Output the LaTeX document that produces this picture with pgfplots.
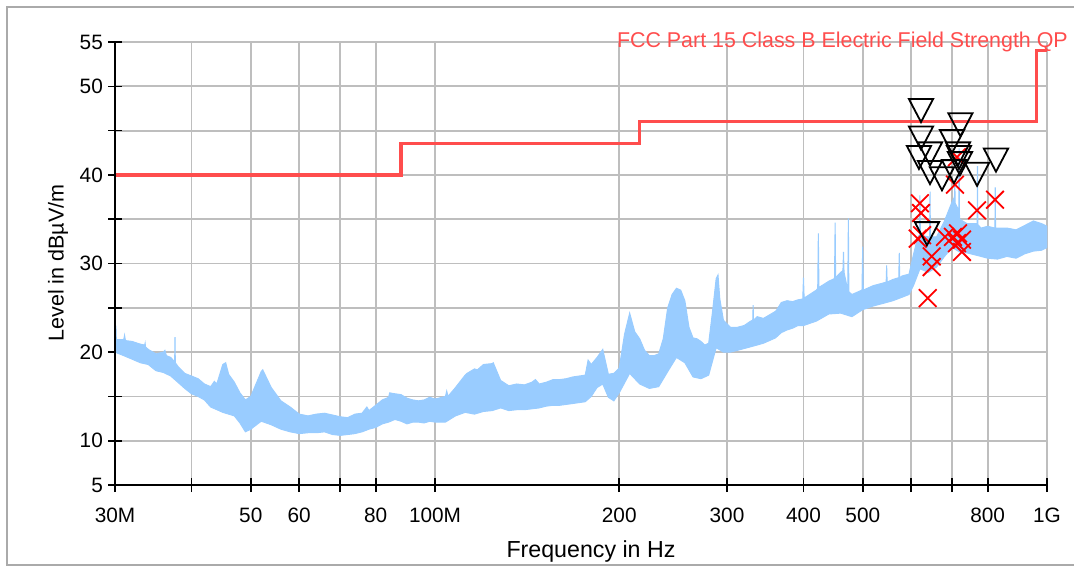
\documentclass[border=0pt]{standalone}
\usepackage{fontspec}
\setmainfont{Liberation Sans}
\usepackage{pgfplots}
\usepackage{pgfplotstable}
\pgfplotsset{compat=1.18}
\definecolor{spec}{RGB}{153,204,255}
\definecolor{lim}{RGB}{255,77,77}
\definecolor{gridc}{RGB}{190,190,190}
\definecolor{framec}{RGB}{170,170,170}

% spectrum band: upper envelope (ascending f), then lower envelope (descending f)
\pgfplotstableread{
f v
30 21.5
30.05 21.3
30.1 23.0
30.15 21.4
31 21.4
31.1 21.9
31.2 21.3
32 21.2
33 20.9
33.55 20.8
33.6 21.0
33.65 20.6
34 20.3
35 19.8
36 20.0
36.2 20.2
36.4 19.6
37 19.4
37.55 18.9
37.6 21.7
37.65 18.8
38 18.4
39 17.6
40 17.3
41 17.0
42 16.4
43 16.1
43.6 16.7
44 16.4
45 18.6
45.5 18.8
46 17.5
47 16.6
48 15.4
49 14.6
50 15.0
52 17.8
52.3 18.0
54 16.0
56 14.5
58 13.8
60 13.0
62 12.8
64 13.0
66 13.1
68 12.9
70 12.7
72 12.6
74 13.0
76 13.1
77.4 13.8
78 13.4
80 14.0
82 14.6
84 14.9
84.3 15.4
86 15.3
88 15.2
90 14.8
92 14.6
94 14.5
96 14.6
98 14.9
100 14.7
104 15.0
104.5 15.6
105 15.0
108 16.0
112 17.4
112.8 17.6
116 18.1
117.3 18.0
120 18.6
124 18.7
124.5 18.8
128 16.8
132 16.2
136 16.4
140 16.3
144 16.6
145.9 16.9
148 16.4
152 16.6
156 16.9
160 16.9
164 17.0
168 17.2
172 17.3
176 17.4
177.9 19.1
180 18.6
184 19.4
188 20.3
192 17.5
196 17.6
200 18.2
204 22.0
208 24.4
212 22.3
216 21.5
220 20.2
224 19.6
228 19.6
232 19.8
236 21.5
240 25.0
244 26.5
248 27.2
252 27.0
256 25.8
260 22.8
264 21.6
268 21.5
272 21.2
276 20.8
280 21.0
284 24.5
288 28.3
290 28.7
292 26.0
296 23.6
304 22.8
312 22.8
320 23.0
328 23.5
330.5 23.6
331 25.3
331.5 23.6
336 24.0
344 23.8
352 24.2
360 24.6
362 24.8
368 25.6
376 25.8
384 25.7
392 25.9
399 26.0
400 28.4
401 26.1
420 27.0
422 27.2
423 33.4
424 27.3
440 28.0
449.5 28.3
450.6 34.6
451.5 28.4
460 29.0
464 29.2
465 31.3
466 29.0
472.5 27.0
473.6 35.1
474.5 26.8
480 26.5
498.5 27.0
499.8 31.9
501 27.0
520 27.5
540 27.8
546 27.9
547 29.8
548 27.9
560 28.2
572.5 28.4
573.6 31.2
574.5 28.4
580 28.6
595 28.8
605 31.0
615 33.0
619 33.2
620 37.7
621 33.2
640 33.0
643 33.0
644 38.1
645 33.0
660 33.0
680 34.8
700 37.0
706 37.5
707 39.1
708 36.8
717.5 36.0
718.5 43.0
719.5 35.5
720 35.0
740 34.5
760 34.5
769 34.5
770 41.0
771 34.4
780 34.0
800 34.2
822 34.0
823 38.6
824 34.0
830 34.0
860 34.0
890 33.8
920 34.3
950 34.8
980 34.5
1000 34.2
1000 31.8
980 31.5
950 31.4
920 31.1
890 30.6
860 30.8
830 30.5
800 30.6
780 30.8
760 31.0
740 31.2
720 31.3
700 31.8
680 30.8
660 29.6
640 29.0
620 29.4
605 27.5
595 26.5
580 26.2
560 25.8
540 25.5
520 25.2
500 24.8
480 24.0
460 24.4
440 24.3
420 23.5
400 23.0
392 23.0
384 22.7
376 22.5
368 22.2
360 21.6
352 21.3
344 21.0
336 20.8
328 20.6
320 20.4
312 20.2
304 20.0
296 20.0
288 20.5
280 17.4
272 17.0
264 17.2
256 18.8
248 19.4
240 17.8
232 16.1
224 15.9
216 16.4
208 17.6
200 15.4
196 14.5
192 14.9
188 16.4
184 16.0
180 15.0
176 14.4
172 14.3
168 14.2
164 14.1
160 14.0
156 14.0
152 13.9
148 13.7
144 13.6
140 13.5
136 13.5
132 13.4
128 13.7
124 13.4
120 13.3
116 13.0
112 13.2
108 12.8
104 12.1
100 12.1
98 12.2
96 12.0
94 12.1
92 12.1
90 11.9
88 12.2
86 12.4
84 12.1
82 11.9
80 11.5
78 11.3
76 11.0
74 10.8
72 10.7
70 10.6
68 10.7
66 11.0
64 10.9
62 10.9
60 10.8
58 11.0
56 11.3
54 11.8
52 12.2
50 11.3
49 11.0
48 12.0
47 12.8
46 13.0
45 13.2
44 13.5
43 13.8
42 14.6
41 15.0
40 15.3
39 15.9
38 16.6
37 17.3
36 17.7
35 17.9
34 18.6
33 18.8
32 19.2
31 19.6
30 20.0
}\band

\pgfplotstableread{
f v
622.5 47.7
722.0 46.1
622.5 44.6
699.4 44.2
617.7 42.4
643.9 42.8
715.4 42.8
718.1 42.4
720.8 41.7
825.3 42.1
643.9 40.7
673.6 40.0
704.7 40.8
768.7 40.5
636.6 33.8
}\peaks

\pgfplotstableread{
f v
620.0 36.8
622.5 35.7
614.8 32.8
625.0 33.2
648.0 30.8
648.0 29.6
638.4 26.1
681.3 33.0
702.0 33.0
715.4 33.4
712.7 32.3
726.3 31.3
726.3 32.7
707.3 38.9
712.7 42.0
768.7 36.0
822.3 37.2
}\finals

\begin{document}
\begin{tikzpicture}
\path[use as bounding box] (0pt,0pt) rectangle (1074pt,566pt);
\draw[framec, line width=1.5pt] (1080pt,559pt) -- (7pt,559pt) -- (7pt,1pt) -- (1080pt,1pt);
\begin{axis}[
  name=ax,
  at={(115pt,81pt)}, anchor=south west,
  width=932pt, height=443pt, scale only axis,
  xmode=log, xmin=30, xmax=1000, ymin=5, ymax=55,
  axis line style={draw=none},
  tick pos=left,
  tick align=center,
  major tick length=14pt,
  tick style={black, line width=1.6pt},
  grid=major,
  grid style={gridc, line width=1.8pt},
  xtick={30,40,50,60,70,80,100,200,300,400,500,600,700,800,1000},
  xticklabels={30M,,50,60,,80,100M,200,300,400,500,,,800,1G},
  ytick={5,10,...,55},
  yticklabels={5,10,,20,,30,,40,,50,55},
  tick label style={font=\fontsize{20.8}{24}\selectfont, inner sep=0pt},
  xticklabel style={anchor=north, yshift=-16pt},
  yticklabel style={anchor=east, xshift=-5pt},
]
\addplot[draw=spec, fill=spec, line width=1pt] table[x=f, y=v] {\band};
\addplot[lim, line width=3.2pt] coordinates {(30,40) (88,40) (88,43.5) (216,43.5) (216,46) (960,46) (960,54) (1000,54)};
\addplot[only marks, mark=x, mark size=12.5pt, mark options={red, line width=1.8pt}] table[x=f, y=v] {\finals};
\addplot[only marks, mark=triangle, mark size=14pt, mark options={black, line width=1.8pt, yscale=-1.1, fill=none}] table[x=f, y=v] {\peaks};
\end{axis}
\draw[black, line width=2pt] (ax.north west) -- (ax.south west) -- (ax.south east);
\node[font=\fontsize{23.2}{27}\selectfont, anchor=base] at (591pt,9pt) {Frequency in Hz};
\node[font=\fontsize{21.5}{25}\selectfont, rotate=90, anchor=center] at (58pt,303pt) {Level in dBµV/m};
\node[font=\fontsize{21.4}{25}\selectfont, text=lim, anchor=base east, inner sep=0pt] at (1068pt,518pt) {FCC Part 15 Class B Electric Field Strength QP};
\end{tikzpicture}
\end{document}
